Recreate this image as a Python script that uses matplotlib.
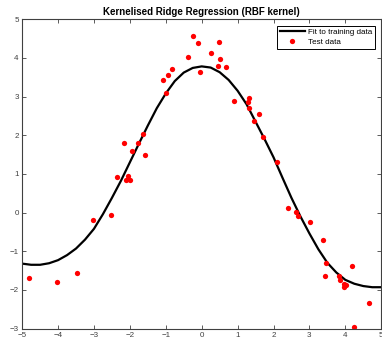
#Kernelised ridge regression chart
#fit curve and test points

import matplotlib
matplotlib.use('Agg')
import matplotlib.pyplot as plt

#fitted curve (read at steps of 0.25)
fit_x = [-5.0, -4.75, -4.5, -4.25, -4.0, -3.75, -3.5, -3.25, -3.0, -2.75,
         -2.5, -2.25, -2.0, -1.75, -1.5, -1.25, -1.0, -0.75, -0.5, -0.25,
         0.0, 0.25, 0.5, 0.75, 1.0, 1.25, 1.5, 1.75, 2.0, 2.25,
         2.5, 2.75, 3.0, 3.25, 3.5, 3.75, 4.0, 4.25, 4.5, 4.75, 5.0]
fit_y = [-1.32, -1.35, -1.35, -1.31, -1.23, -1.10, -0.93, -0.70, -0.42, -0.04,
         0.38, 0.82, 1.30, 1.78, 2.25, 2.70, 3.08, 3.40, 3.62, 3.74,
         3.78, 3.75, 3.63, 3.43, 3.15, 2.80, 2.35, 1.90, 1.43, 0.90,
         0.38, -0.10, -0.54, -0.95, -1.30, -1.55, -1.74, -1.84, -1.90, -1.93, -1.93]

#test data
test_x = [-0.24, -0.10, 0.47, 0.27, -0.38, 0.50, 0.45, 0.68, -0.04, -0.84,
          -0.95, -1.07, -1.00, 0.91, 1.33, 1.29, 1.33, 1.60, 1.45,
          1.70, 2.11, 2.39, 2.62, 2.68, 3.03, 3.38,
          -3.03, -2.52, -2.36, -2.12, -2.01, -2.04, -2.15, -1.95, -1.78, -1.64, -1.58,
          -4.82, -4.04, -3.46, 3.45, 3.42, 4.19, 3.82, 3.86, 3.96, 4.03, 3.96, 4.65, 4.23]
test_y = [4.57, 4.38, 4.42, 4.12, 4.01, 3.97, 3.79, 3.76, 3.63, 3.70,
          3.56, 3.42, 3.09, 2.88, 2.97, 2.85, 2.70, 2.56, 2.38,
          1.96, 1.32, 0.13, 0.02, -0.08, -0.24, -0.72,
          -0.19, -0.05, 0.92, 0.84, 0.85, 0.95, 1.81, 1.60, 1.81, 2.04, 1.48,
          -1.68, -1.80, -1.57, -1.31, -1.64, -1.38, -1.63, -1.75, -1.85, -1.87, -1.93, -2.35, -2.96]

plt.rcParams['font.family'] = ['Liberation Sans', 'DejaVu Sans']
grey = '#404040'

fig = plt.figure(figsize=(3.82, 3.43), dpi=100)
ax = fig.add_axes([0.058, 0.042, 0.94, 0.902])

ax.plot(fit_x, fit_y, color='black', linewidth=1.6, label='Fit to training data')
ax.plot(test_x, test_y, linestyle='', marker='o', markersize=3.8,
        color='red', markeredgewidth=0, label='Test data')

ax.set_xlim(-5, 5)
ax.set_ylim(-3, 5)
ax.set_xticks(range(-5, 6))
ax.set_yticks(range(-3, 6))

#matlab style ticks on every side, pointing inwards
ax.tick_params(direction='in', top=True, right=True, length=3, width=0.6,
               labelsize=5.8, colors=grey, pad=2.5)
for s in ax.spines.values():
    s.set_color(grey)
    s.set_linewidth(0.8)

ax.set_title('Kernelised Ridge Regression (RBF kernel)', fontsize=7,
             fontweight='bold', pad=3)

leg = ax.legend(loc='upper right', fontsize=5.8, fancybox=False, framealpha=1,
                edgecolor='black', borderpad=0.35, labelspacing=0.25,
                handlelength=3.2, handletextpad=0.3, borderaxespad=0.8,
                numpoints=1)
leg.get_frame().set_linewidth(0.7)

fig.savefig('out.png', dpi=100)
